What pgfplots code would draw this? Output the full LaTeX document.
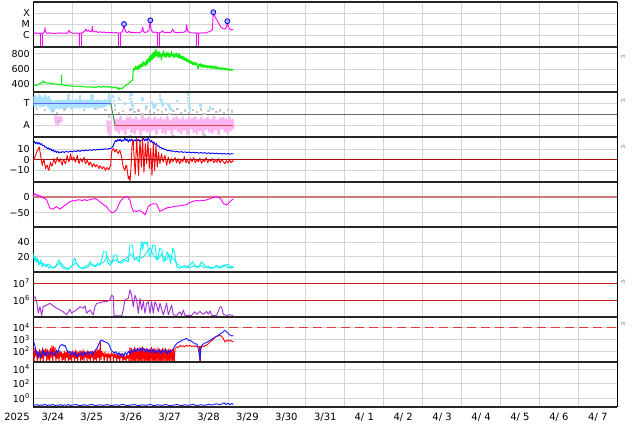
\documentclass[border=0pt]{standalone}
\usepackage{fontspec}
\setmainfont{DejaVu Sans}
\usepackage{pgfplots}
\pgfplotsset{compat=1.18}

\definecolor{xmag}{HTML}{FF00FF}
\definecolor{vgreen}{HTML}{11EE11}
\definecolor{lblue}{HTML}{A8E2FF}
\definecolor{lpink}{HTML}{FFB4F2}
\definecolor{lgray}{HTML}{C4C4C4}
\definecolor{secblue}{HTML}{5A6CFF}
\definecolor{secgreen}{HTML}{3A8A3A}
\definecolor{secred}{HTML}{DD4848}
\definecolor{dstline}{HTML}{D07878}
\definecolor{cyanA}{HTML}{00F4F4}
\definecolor{cyanB}{HTML}{22E6E6}
\definecolor{purp}{HTML}{A030D0}
\definecolor{refred}{HTML}{CC1A1A}
\definecolor{zerored}{HTML}{A81010}
\definecolor{dashred}{HTML}{E03A3A}
\definecolor{fblue}{HTML}{1A1AFF}

\pgfplotsset{
  panel/.style={
    scale only axis, width=584pt, height=45pt,
    xmin=0, xmax=15, xtick={0,...,15}, xticklabels={},
    grid=major, grid style={draw=black!17, line width=0.7pt},
    major tick length=0pt, yminorticks=false,
    separate axis lines,
    x axis line style={line width=2.6pt, draw=black!85},
    y axis line style={line width=0.9pt, draw=black},
    yticklabel style={font=\fontsize{9.5}{10}\selectfont},
    every axis plot/.append style={line width=0.9pt, line join=round},
    unbounded coords=jump,
    anchor=north west,
  },
}

\begin{document}
\begin{tikzpicture}[x=1pt,y=1pt]
\useasboundingbox (0,0) rectangle (634,424);

% 1: X-ray class
\begin{axis}[panel, at={(33.3pt,422pt)}, ymode=log, ymin=8.6e-8, ymax=1.06e-3,
  ytick={1e-6,1e-5,1e-4}, yticklabels={C,M,X}]
\addplot[xmag] coordinates {(0.00,1.6e-6)(0.03,1.5e-6)(0.06,1.7e-6)(0.09,1.5e-6)(0.12,1.6e-6)(0.15,1.5e-6)(0.185,1.5e-6)(0.24,1.5e-6)(0.27,1.7e-6)(0.29,2.5e-6)(0.30,5e-6)(0.31,2.2e-6)(0.34,1.6e-6)(0.38,1.5e-6)(0.42,1.7e-6)(0.46,1.5e-6)(0.50,1.6e-6)(0.55,1.4e-6)(0.60,1.6e-6)(0.65,1.5e-6)(0.70,1.7e-6)(0.75,1.5e-6)(0.80,1.6e-6)(0.85,1.5e-6)(0.89,1.8e-6)(0.92,2.8e-6)(0.95,1.8e-6)(1.00,1.6e-6)(1.05,1.5e-6)(1.10,1.6e-6)(1.15,1.5e-6)(1.185,1.5e-6)(1.24,1.6e-6)(1.28,1.9e-6)(1.32,2.4e-6)(1.35,3.7e-6)(1.38,2.3e-6)(1.42,2.8e-6)(1.46,2.0e-6)(1.50,2.4e-6)(1.515,6.5e-6)(1.53,2.3e-6)(1.57,2.0e-6)(1.62,2.2e-6)(1.67,1.8e-6)(1.72,2.1e-6)(1.77,1.8e-6)(1.82,2.0e-6)(1.87,1.7e-6)(1.92,1.9e-6)(1.97,1.7e-6)(2.02,1.8e-6)(2.07,1.6e-6)(2.12,1.8e-6)(2.185,1.6e-6)(2.24,1.6e-6)(2.28,2.0e-6)(2.31,3.5e-6)(2.33,1.05e-5)(2.35,3.5e-6)(2.38,2.0e-6)(2.42,1.8e-6)(2.46,2.3e-6)(2.50,1.7e-6)(2.55,1.9e-6)(2.60,1.7e-6)(2.65,1.9e-6)(2.70,1.6e-6)(2.75,1.8e-6)(2.79,2.5e-6)(2.81,5.5e-6)(2.83,2.2e-6)(2.87,1.8e-6)(2.92,2.0e-6)(2.97,2.8e-6)(3.005,2.3e-5)(3.025,3.5e-6)(3.06,2.0e-6)(3.10,1.8e-6)(3.14,2.0e-6)(3.185,1.7e-6)(3.24,1.7e-6)(3.28,1.9e-6)(3.32,2.6e-6)(3.35,1.9e-6)(3.40,1.7e-6)(3.45,1.9e-6)(3.50,1.7e-6)(3.54,2.0e-6)(3.58,3.6e-6)(3.61,2.0e-6)(3.66,1.8e-6)(3.71,1.7e-6)(3.76,1.9e-6)(3.82,1.8e-6)(3.88,2.0e-6)(3.92,2.6e-6)(3.94,9e-6)(3.96,2.6e-6)(4.00,1.9e-6)(4.05,1.7e-6)(4.10,1.6e-6)(4.15,1.7e-6)(4.195,1.6e-6)(4.25,1.5e-6)(4.30,1.6e-6)(4.36,1.7e-6)(4.42,1.6e-6)(4.47,1.9e-6)(4.52,2.1e-6)(4.57,2.6e-6)(4.60,3.2e-6)(4.615,4e-5)(4.624,1.25e-4)(4.64,8e-5)(4.67,4.5e-5)(4.70,2.9e-5)(4.74,1.8e-5)(4.78,9e-6)(4.82,5.5e-6)(4.87,4.2e-6)(4.92,3.6e-6)(4.96,5e-6)(4.983,1.9e-5)(5.00,8e-6)(5.03,4.5e-6)(5.07,3.3e-6)(5.11,3.0e-6)(5.137,3.3e-6)};
% data gaps drawn as drops to the floor
\addplot[xmag] coordinates {(0.19,1.5e-6)(0.19,8.7e-8)(0.20,nan)(0.235,8.7e-8)(0.235,1.5e-6)(0.24,nan)
 (1.19,1.5e-6)(1.19,8.7e-8)(1.20,nan)(1.235,8.7e-8)(1.235,1.6e-6)(1.24,nan)
 (2.19,1.6e-6)(2.19,8.7e-8)(2.20,nan)(2.235,8.7e-8)(2.235,1.6e-6)(2.24,nan)
 (3.19,1.7e-6)(3.19,8.7e-8)(3.20,nan)(3.235,8.7e-8)(3.235,1.7e-6)(3.24,nan)
 (4.20,1.6e-6)(4.20,8.7e-8)(4.21,nan)(4.245,8.7e-8)(4.245,1.5e-6)};
\addplot[only marks, mark=*, mark size=2.5pt, mark options={draw=blue!85!black, fill=blue!30, line width=0.8pt}]
  coordinates {(2.33,1.05e-5)(3.005,2.3e-5)(4.624,1.25e-4)(4.983,1.9e-5)};
\end{axis}

% 2: solar wind speed
\begin{axis}[panel, at={(33.3pt,377pt)}, ymin=300, ymax=888, ytick={400,600,800}, yticklabels={400,600,800}]
\addplot[vgreen, line width=1.1pt] coordinates {(0,388)(0.04,392)(0.08,386)(0.12,398)(0.16,405)(0.2,418)(0.24,430)(0.26,445)(0.28,428)(0.32,422)(0.36,415)(0.40,418)(0.44,410)(0.48,412)(0.52,404)(0.56,406)(0.60,400)(0.64,402)(0.68,396)(0.72,398)(0.725,520)(0.73,398)(0.76,392)(0.80,388)(0.85,382)(0.90,385)(0.95,378)(1.0,380)(1.05,375)(1.1,377)(1.15,372)(1.2,374)(1.25,370)(1.3,372)(1.35,366)(1.4,364)(1.45,368)(1.5,362)(1.55,366)(1.6,360)(1.65,368)(1.7,372)(1.75,362)(1.8,375)(1.85,365)(1.9,372)(1.95,360)(2.0,370)(2.05,352)(2.1,368)(2.15,345)(2.18,360)(2.2,335)(2.24,352)(2.28,342)(2.32,365)(2.36,380)(2.40,395)(2.44,410)(2.48,425)(2.52,445)(2.55,455)(2.57,595)(2.59,615)(2.61,585)(2.63,640)(2.65,600)(2.67,630)(2.69,590)(2.71,650)(2.73,610)(2.75,660)(2.77,620)(2.79,680)(2.81,635)(2.83,700)(2.85,650)(2.87,690)(2.89,640)(2.91,720)(2.93,665)(2.95,740)(2.97,690)(2.99,770)(3.01,700)(3.03,790)(3.05,720)(3.07,810)(3.09,740)(3.11,830)(3.13,760)(3.15,860)(3.17,770)(3.19,820)(3.21,750)(3.23,830)(3.25,760)(3.27,800)(3.29,720)(3.31,810)(3.33,770)(3.35,840)(3.37,760)(3.39,800)(3.41,750)(3.43,820)(3.45,770)(3.47,810)(3.49,745)(3.51,800)(3.53,765)(3.55,830)(3.57,770)(3.59,800)(3.61,750)(3.63,795)(3.65,760)(3.67,810)(3.69,755)(3.71,790)(3.73,745)(3.75,800)(3.77,740)(3.79,775)(3.81,735)(3.83,765)(3.85,720)(3.87,760)(3.89,715)(3.91,745)(3.93,700)(3.95,735)(3.97,695)(3.99,720)(4.01,680)(4.03,710)(4.05,670)(4.07,700)(4.09,660)(4.11,690)(4.13,650)(4.15,685)(4.17,655)(4.19,680)(4.21,645)(4.23,600)(4.25,665)(4.27,640)(4.29,670)(4.31,630)(4.33,660)(4.35,625)(4.37,655)(4.39,620)(4.41,650)(4.43,625)(4.45,645)(4.47,615)(4.49,640)(4.51,620)(4.53,645)(4.55,610)(4.57,635)(4.59,615)(4.61,640)(4.63,605)(4.65,630)(4.67,610)(4.69,640)(4.71,600)(4.73,625)(4.75,605)(4.77,620)(4.79,595)(4.81,615)(4.83,600)(4.85,618)(4.87,592)(4.89,610)(4.91,595)(4.93,612)(4.95,590)(4.97,605)(4.99,585)(5.01,600)(5.03,588)(5.05,602)(5.07,582)(5.09,598)(5.11,585)(5.137,592)};
\end{axis}

% 3: sector polarity
\begin{axis}[panel, at={(33.3pt,332pt)}, ymin=-2.06, ymax=2.03, ytick={-1,1}, yticklabels={A,T}]
\addplot[black!60, line width=0.9pt] coordinates {(0,0)(15,0)};
\addplot[lblue, line width=2.4pt] coordinates {(0.000,1.6)(0.025,0.8)(0.05,1.7)(0.075,0.7)(0.10,1.5)(0.125,0.9)(0.15,1.75)(0.175,0.7)(0.20,1.6)(0.225,0.8)(0.25,1.4)(0.275,0.75)(0.30,1.7)(0.325,0.9)(0.35,1.5)(0.375,0.7)(0.40,1.6)(0.425,0.5)(0.45,1.3)(0.475,0.2)(0.50,1.1)(0.525,0.3)(0.55,1.2)(0.575,0.6)(0.60,1.25)(0.625,0.6)(0.65,1.2)(0.675,0.55)(0.70,1.3)(0.725,0.6)(0.75,1.2)(0.775,0.65)(0.80,1.25)(0.825,0.6)(0.85,1.15)(0.875,0.6)(0.90,1.5)(0.925,0.7)(0.95,1.2)(0.975,0.6)(1.00,1.25)(1.025,0.65)(1.05,1.2)(1.075,0.6)(1.10,1.3)(1.125,0.7)(1.15,1.2)(1.175,0.6)(1.20,1.45)(1.225,0.65)(1.25,1.2)(1.275,0.7)(1.30,1.25)(1.325,0.6)(1.35,1.2)(1.375,0.7)(1.40,1.3)(1.425,0.65)(1.45,1.2)(1.475,0.7)(1.50,1.6)(1.525,0.7)(1.55,1.25)(1.575,0.65)(1.60,1.2)(1.625,0.7)(1.65,1.3)(1.675,0.6)(1.70,1.2)(1.725,0.7)(1.75,1.25)(1.775,0.65)(1.80,1.2)(1.825,0.7)(1.85,1.3)(1.875,0.8)(1.90,1.2)(1.925,0.9)(1.95,1.8)(1.97,0.8)};
\addplot[lpink, line width=2pt] coordinates {(0.56,-0.1)(0.58,-0.9)(0.60,-0.2)(0.62,-1.0)(0.64,-0.3)(0.66,-0.8)(0.68,-0.2)(0.70,-0.7)(0.72,-0.3)(0.74,-0.6)};
\addplot[lpink, line width=2pt] coordinates {(1.90,-0.5)(1.92,-1.6)(1.94,-0.7)(1.96,-1.9)(1.98,-0.6)};
\addplot[lpink, line width=2.4pt] coordinates {(2.08,-0.3)(2.12,-1.5)(2.16,-0.5)(2.20,-1.7)(2.24,-0.2)(2.28,-1.4)(2.32,-0.6)(2.36,-1.8)(2.40,-0.35)(2.44,-1.3)(2.48,-0.25)(2.52,-1.6)(2.56,-0.45)(2.60,-1.75)(2.64,-0.3)(2.68,-1.35)(2.72,-0.55)(2.76,-1.85)(2.80,-0.2)(2.84,-1.45)(2.88,-0.4)(2.92,-1.6)(2.96,-0.3)(3.00,-1.7)(3.04,-0.5)(3.08,-1.4)(3.12,-0.25)(3.16,-1.8)(3.20,-0.45)(3.24,-1.3)(3.28,-0.3)(3.32,-1.65)(3.36,-0.5)(3.40,-1.75)(3.44,-0.2)(3.48,-1.4)(3.52,-0.6)(3.56,-1.85)(3.60,-0.35)(3.64,-1.35)(3.68,-0.25)(3.72,-1.55)(3.76,-0.45)(3.80,-1.7)(3.84,-0.3)(3.88,-1.4)(3.92,-0.5)(3.96,-1.8)(4.00,-0.3)(4.04,-1.3)(4.08,-0.4)(4.12,-1.6)(4.16,-0.25)(4.20,-1.75)(4.24,-0.5)(4.28,-1.45)(4.32,-0.3)(4.36,-1.85)(4.40,-0.45)(4.44,-1.35)(4.48,-0.3)(4.52,-1.6)(4.56,-0.5)(4.60,-1.7)(4.64,-0.2)(4.68,-1.4)(4.72,-0.55)(4.76,-1.8)(4.80,-0.35)(4.84,-1.3)(4.88,-0.3)(4.92,-1.55)(4.96,-0.45)(5.00,-1.75)(5.04,-0.3)(5.08,-1.45)(5.12,-0.5)(5.14,-1.3)};
\addplot[only marks, mark=square*, mark size=0.7pt, color=lgray] coordinates {(0.1,0.5)(0.3,0.4)(0.5,0.3)(0.6,0.1)(0.8,0.45)(1.0,0.5)(1.3,0.4)(1.6,0.5)(1.85,0.4)(1.95,-0.2)(0.65,-0.6)(2.1,0.4)(2.2,0.1)(2.3,0.3)(2.4,-0.05)(2.5,0.45)(2.6,0.2)(2.7,0.35)(2.8,0.0)(2.9,0.5)(3.0,0.25)(3.1,0.1)(3.2,0.4)(3.3,0.2)(3.4,0.45)(3.5,0.05)(3.6,0.3)(3.7,0.5)(3.8,0.15)(3.9,0.35)(4.0,0.1)(4.1,0.4)(4.2,0.2)(4.3,0.45)(4.4,0.05)(4.5,0.3)(4.6,0.5)(4.7,0.2)(4.8,0.35)(4.9,0.1)(5.0,0.4)(5.1,0.25)(2.5,-1.95)(3.0,-1.9)(3.6,-1.95)(4.4,-1.9)};
\addplot[only marks, mark=square*, mark size=0.8pt, color=lblue] coordinates {(2.05,1.6)(2.07,1.2)(2.10,0.8)(2.2,1.5)(2.22,1.3)(2.35,1.0)(2.48,1.7)(2.50,1.4)(2.52,1.1)(2.54,0.8)(2.55,0.5)(2.52,1.8)(2.79,1.5)(2.81,1.35)(3.05,1.1)(3.07,0.9)(3.09,0.7)(3.11,0.6)(3.13,0.9)(3.25,1.7)(3.27,1.4)(3.29,1.2)(3.31,1.0)(3.33,0.8)(3.47,0.9)(3.49,0.7)(3.52,0.5)(3.55,0.4)(3.97,1.8)(3.98,1.5)(3.99,1.2)(4.0,0.9)(4.01,0.6)(4.02,0.4)(4.54,0.6)(4.55,0.5)(3.7,1.2)(2.9,0.7)(4.3,0.8)(1.5,1.75)(1.52,1.6)(0.9,1.7)(1.2,1.65)};
\addplot[secblue] coordinates {(0,1)(1.99,1)};
\addplot[secgreen] coordinates {(1.99,1)(2.10,-1)};
\addplot[secred] coordinates {(2.10,-1)(5.14,-1)};
\end{axis}

% 4: IMF Bt, Bz
\begin{axis}[panel, at={(33.3pt,287pt)}, ymin=-21.6, ymax=21.9, ytick={-10,0,10}, yticklabels={−10,0,10}]
\addplot[blue] coordinates {(0,16)(0.03,17.5)(0.06,15.5)(0.09,17)(0.12,15)(0.15,16.5)(0.18,14.5)(0.21,15.5)(0.24,13.5)(0.27,14)(0.30,12)(0.33,12.5)(0.36,10.5)(0.39,11.5)(0.42,9.5)(0.45,10.5)(0.48,8.5)(0.51,9.5)(0.54,7.5)(0.57,8.5)(0.60,7)(0.63,8)(0.66,6.5)(0.69,7.5)(0.72,6.8)(0.75,7.8)(0.8,7)(0.85,8)(0.9,7.2)(0.95,8.2)(1.0,7.5)(1.05,8.5)(1.1,7.8)(1.15,8.8)(1.2,8)(1.25,9)(1.3,8.5)(1.35,9.3)(1.4,8.7)(1.45,9.5)(1.5,9)(1.55,9.8)(1.6,9.2)(1.65,10)(1.7,9.5)(1.75,10.3)(1.8,9.8)(1.85,10.5)(1.9,10)(1.95,10.8)(2.0,11)(2.05,13)(2.08,16)(2.11,18.5)(2.14,17.5)(2.17,19.5)(2.2,18)(2.23,20)(2.26,17.5)(2.29,19)(2.32,18)(2.35,21)(2.38,18.5)(2.41,20)(2.44,17)(2.47,19.5)(2.5,18)(2.53,20)(2.56,17.5)(2.59,19)(2.62,18)(2.65,20.5)(2.68,18)(2.71,19.5)(2.74,17.5)(2.77,19)(2.8,18.5)(2.83,21)(2.86,18)(2.89,20)(2.92,18.5)(2.95,21.5)(2.98,19)(3.01,17)(3.04,18.5)(3.07,16)(3.1,17)(3.13,14.5)(3.16,15.5)(3.19,13)(3.22,13.5)(3.25,11.5)(3.28,12)(3.31,10.5)(3.34,11)(3.37,9.5)(3.4,10)(3.45,8.5)(3.5,9)(3.55,8)(3.6,8.5)(3.65,7.5)(3.7,8)(3.75,7.2)(3.8,7.8)(3.85,7)(3.9,7.5)(3.95,6.8)(4.0,7.4)(4.05,6.6)(4.1,7.2)(4.15,6.5)(4.2,7)(4.25,6.3)(4.3,6.9)(4.35,6.2)(4.4,6.8)(4.45,6)(4.5,6.6)(4.55,5.9)(4.6,6.5)(4.65,5.8)(4.7,6.3)(4.75,5.6)(4.8,6.1)(4.85,5.5)(4.9,6)(4.95,5.4)(5.0,5.9)(5.05,5.3)(5.1,5.8)(5.14,5.5)};
\addplot[red] coordinates {(0,-2.3)(0.02,1)(0.043,2.5)(0.065,5)(0.086,7.4)(0.11,9)(0.128,10.7)(0.154,12.2)(0.17,8)(0.188,4.2)(0.21,-1)(0.231,-5.5)(0.25,-2)(0.274,0)(0.295,-4)(0.317,-8.7)(0.34,-6)(0.36,-5.5)(0.38,-9)(0.402,-10.4)(0.42,-6)(0.445,-2.3)(0.465,-6)(0.488,-5.5)(0.51,-2)(0.531,1)(0.55,-2)(0.574,-3.9)(0.595,0)(0.616,2.5)(0.64,-1)(0.659,-2.3)(0.68,0)(0.702,1)(0.72,-3)(0.745,-5.5)(0.765,-1)(0.788,-0.5)(0.81,-3)(0.83,-3.9)(0.85,0)(0.873,4.2)(0.895,0)(0.916,-2.3)(0.94,2)(0.959,5.8)(0.98,1)(1.002,-0.5)(1.025,2)(1.045,2.5)(1.065,-1)(1.087,-2.3)(1.11,1)(1.13,4.2)(1.15,0)(1.173,-3.9)(1.195,-1)(1.216,1)(1.24,-1)(1.259,-2.3)(1.28,0)(1.301,2.5)(1.32,-1)(1.344,-3.9)(1.365,-2)(1.387,-0.5)(1.41,-3)(1.43,-5.5)(1.45,-3)(1.473,-2.3)(1.495,-5)(1.515,-7.1)(1.535,-5)(1.558,-3.9)(1.58,-6)(1.601,-7.1)(1.62,-5)(1.644,-5.5)(1.665,-7)(1.687,-8.7)(1.71,-6)(1.729,-6.3)(1.75,-8)(1.772,-8.7)(1.795,-7)(1.815,-7.1)(1.835,-9)(1.858,-10.4)(1.88,-8)(1.901,-7.8)(1.92,-9)(1.943,-9.7)(1.965,-7)(1.986,-5.5)(2.0,2)(2.021,9)(2.055,10.7)(2.075,9)(2.098,7.4)(2.12,9.5)(2.14,9.9)(2.16,7)(2.183,6)(2.205,8)(2.226,8.8)(2.25,5)(2.269,2.5)(2.29,-3)(2.312,-7.1)(2.33,-9)(2.354,-10.4)(2.375,-6)(2.397,-5.5)(2.42,-12)(2.44,-18.4)(2.46,-16)(2.483,-20.8)(2.509,-8.7)(2.534,12.2)(2.55,16)(2.568,18.7)(2.58,8)(2.594,1)(2.607,-8)(2.62,-14)(2.637,3)(2.654,20.4)(2.667,10)(2.68,5)(2.69,-6)(2.705,-15.2)(2.72,2)(2.74,18.7)(2.757,8)(2.774,-7.1)(2.79,5)(2.808,20.4)(2.825,3)(2.842,-12.3)(2.86,0)(2.877,15.5)(2.895,6)(2.911,-3.9)(2.93,8)(2.945,18.7)(2.962,5)(2.979,-8.7)(2.996,2)(3.014,10.7)(3.03,0)(3.048,-15.2)(3.065,0)(3.082,15.5)(3.1,2)(3.116,-10.4)(3.134,3)(3.151,13.9)(3.168,2)(3.185,-7.1)(3.2,0)(3.219,7.4)(3.236,0)(3.253,-3.9)(3.275,2)(3.296,5.8)(3.318,0)(3.339,-2.3)(3.36,2)(3.382,4.2)(3.404,-1)(3.425,-5.5)(3.446,-1)(3.467,2.5)(3.49,-1)(3.51,-3.9)(3.53,0)(3.553,1)(3.575,-2)(3.60,-1)(3.64,2)(3.68,-3)(3.72,1)(3.76,-4)(3.80,0)(3.84,-2)(3.88,3)(3.92,-3)(3.96,0)(4.00,-4)(4.04,1)(4.08,-2)(4.12,2)(4.16,-3)(4.20,0)(4.24,-2)(4.28,1.5)(4.32,-3.5)(4.36,-0.5)(4.40,-2)(4.44,2)(4.48,-3)(4.52,0)(4.56,-1.5)(4.60,1)(4.64,-3)(4.68,-0.5)(4.72,-2.5)(4.76,1)(4.80,-3)(4.84,0)(4.88,-2)(4.92,-4)(4.96,-1)(5.00,-3)(5.04,0)(5.08,-3)(5.12,-1)(5.14,-2)};
\addplot[zerored, line width=0.9pt] coordinates {(0,0)(15,0)};
\end{axis}

% 5: Dst
\begin{axis}[panel, at={(33.3pt,242pt)}, ymin=-94.7, ymax=45.9, ytick={-50,0}, yticklabels={−50,0}]
\addplot[dstline, line width=2pt] coordinates {(0,0)(15,0)};
\addplot[xmag] coordinates {(0,5)(0.02,10)(0.04,6)(0.06,9)(0.09,3)(0.12,6)(0.15,1)(0.18,3)(0.21,-2)(0.25,-4)(0.30,-6)(0.34,-9)(0.38,-22)(0.43,-36)(0.47,-38)(0.51,-39)(0.55,-35)(0.60,-31)(0.64,-35)(0.68,-39)(0.72,-35)(0.77,-31)(0.81,-27)(0.86,-23)(0.90,-19)(0.94,-16)(0.98,-14)(1.03,-12)(1.08,-13)(1.13,-10)(1.20,-10)(1.26,-12)(1.32,-9)(1.37,-12)(1.43,-10)(1.49,-8)(1.54,-7)(1.60,-6)(1.65,-10)(1.71,-16)(1.77,-22)(1.83,-27)(1.88,-31)(1.93,-40)(1.98,-46)(2.02,-50)(2.05,-50)(2.09,-46)(2.14,-41)(2.18,-28)(2.23,-16)(2.28,-8)(2.33,-3)(2.37,0)(2.40,0)(2.44,-4)(2.48,-10)(2.52,-30)(2.57,-46)(2.61,-44)(2.65,-46)(2.70,-44)(2.74,-43)(2.78,-47)(2.82,-50)(2.87,-57)(2.91,-45)(2.95,-31)(2.99,-27)(3.04,-23)(3.10,-22)(3.17,-23)(3.21,-35)(3.25,-46)(3.30,-43)(3.34,-41)(3.38,-38)(3.42,-36)(3.47,-33)(3.52,-34)(3.56,-32)(3.60,-31)(3.66,-29)(3.72,-30)(3.77,-28)(3.83,-27)(3.88,-26)(3.94,-25)(3.98,-21)(4.02,-18)(4.07,-16)(4.12,-14)(4.16,-13)(4.20,-12)(4.26,-13)(4.32,-11)(4.38,-12)(4.45,-10)(4.5,-8)(4.56,-5)(4.62,-2)(4.67,-1)(4.71,0)(4.75,-2)(4.80,-5)(4.84,-12)(4.88,-21)(4.93,-24)(4.97,-26)(5.01,-21)(5.05,-16)(5.09,-11)(5.14,-7)};
\end{axis}

% 6: density
\begin{axis}[panel, at={(33.3pt,197pt)}, ymin=-0.8, ymax=60.4, ytick={20,40}, yticklabels={20,40}]
\addplot[cyanB] coordinates {(0,20)(0.05,14)(0.1,18)(0.15,10)(0.2,12)(0.3,8)(0.4,10)(0.5,5)(0.6,8)(0.7,12)(0.8,6)(0.9,3)(1.0,8)(1.1,12)(1.2,5)(1.3,4)(1.4,6)(1.5,10)(1.6,7)(1.7,10)(1.8,12)(1.9,20)(2.0,11)(2.1,16)(2.2,12)(2.3,16)(2.4,18)(2.5,24)(2.6,17)(2.7,20)(2.8,18)(2.9,25)(3.0,32)(3.1,20)(3.2,16)(3.3,24)(3.4,15)(3.5,22)(3.6,17)(3.7,10)(3.8,6)(3.9,8)(4.0,5)(4.1,7)(4.2,6)(4.3,8)(4.4,5)(4.5,7)(4.6,4)(4.7,8)(4.8,6)(4.9,9)(5.0,5)(5.1,7)(5.14,5)};
\addplot[cyanA] coordinates {(0,24.6)(0.026,15)(0.05,20)(0.086,12)(0.11,17.8)(0.146,8.7)(0.19,15.5)(0.23,6.4)(0.27,11)(0.32,6.4)(0.36,8.7)(0.40,4.2)(0.445,6.4)(0.51,4.2)(0.58,6.4)(0.625,13)(0.67,15.5)(0.71,8)(0.77,4.2)(0.84,3)(0.9,4.2)(0.985,6.4)(1.03,15.5)(1.07,17.8)(1.11,11)(1.16,6.4)(1.24,4.2)(1.33,6.4)(1.41,8.7)(1.46,13)(1.52,8.7)(1.58,6.4)(1.65,11)(1.71,8.7)(1.755,15.5)(1.80,26.8)(1.87,26.8)(1.90,13)(1.97,8.7)(2.04,15.5)(2.07,22.3)(2.14,22.3)(2.18,13)(2.24,11)(2.31,13.2)(2.38,15.5)(2.44,13)(2.48,35.9)(2.55,35.9)(2.59,15.5)(2.65,17.8)(2.72,13)(2.78,40.4)(2.81,30)(2.84,40.4)(2.89,37)(2.93,40)(2.98,22)(3.01,20)(3.07,35.9)(3.13,35)(3.17,15.5)(3.21,22)(3.25,31.4)(3.30,30)(3.34,13)(3.39,18)(3.44,26.8)(3.49,20)(3.53,11)(3.58,31.4)(3.63,26)(3.68,6.4)(3.77,4.2)(3.85,6.4)(3.94,5)(4.02,8.7)(4.09,13.2)(4.15,8)(4.24,5)(4.32,13.2)(4.38,8.7)(4.45,6.4)(4.54,4.2)(4.62,5)(4.71,6.4)(4.79,4.2)(4.88,6.4)(4.97,9.5)(5.02,8.7)(5.07,4.2)(5.14,6.4)};
\end{axis}

% 7: electron fluence
\begin{axis}[panel, at={(33.3pt,152pt)}, ymode=log, ymin=1.04e5, ymax=4.6e7, ytick={1e6,1e7},
  yticklabels={10\textsuperscript{6},10\textsuperscript{7}}]
\addplot[refred] coordinates {(0,1e7)(15,1e7)};
\addplot[refred] coordinates {(0,1e6)(15,1e6)};
\addplot[purp] coordinates {(0,1.32e6)(0.043,1.62e6)(0.086,8.3e5)(0.128,1.74e5)(0.171,4.2e5)(0.214,1.26e5)(0.257,4.2e5)(0.342,5.2e5)(0.428,6.6e5)(0.514,4.7e5)(0.6,3.4e5)(0.685,2.7e5)(0.771,2.1e5)(0.856,1.4e5)(0.942,2.9e5)(0.985,1.74e5)(1.027,2.1e5)(1.113,2.7e5)(1.199,4.2e5)(1.284,3.4e5)(1.327,4.7e5)(1.37,1.74e5)(1.455,2.7e5)(1.498,1.9e5)(1.541,1.4e5)(1.584,4.2e5)(1.627,6.6e5)(1.712,7.1e5)(1.798,8.3e5)(1.884,8.3e5)(1.969,1.07e6)(2.012,2.0e6)(2.055,1.62e6)(2.072,1.4e5)(2.098,1.2e5)(2.27,1.2e5)(2.312,2.7e5)(2.354,1.07e6)(2.44,1.3e6)(2.483,4.1e6)(2.526,2.0e6)(2.568,4.2e5)(2.611,2.0e6)(2.654,1.07e6)(2.697,1.74e5)(2.74,1.3e6)(2.783,2.7e5)(2.825,8.3e5)(2.868,1.74e5)(2.911,6.6e5)(2.954,8.3e5)(2.997,1.74e5)(3.039,8.3e5)(3.082,1.74e5)(3.125,8.3e5)(3.168,5.2e5)(3.211,2.1e5)(3.253,6.6e5)(3.339,1.4e5)(3.425,6.6e5)(3.467,1.4e5)(3.553,5.2e5)(3.596,1.4e5)(3.682,1.3e5)(3.767,2.1e5)(3.81,1.3e5)(3.853,2.7e5)(3.896,1.3e5)(4.067,1.3e5)(4.152,2.1e5)(4.195,1.5e5)(4.281,2.2e5)(4.366,1.5e5)(4.452,2.2e5)(4.495,1.5e5)(4.538,2.4e5)(4.58,1.3e5)(4.709,1.3e5)(4.795,4.0e5)(4.837,4.2e5)(4.88,1.5e5)(4.966,1.3e5)(5.051,1.4e5)(5.137,1.3e5)};
\end{axis}

% 8: proton / electron flux
\begin{axis}[panel, at={(33.3pt,107pt)}, ymode=log, ymin=12.4, ymax=8.1e4, ytick={1e2,1e3,1e4},
  yticklabels={10\textsuperscript{2},10\textsuperscript{3},10\textsuperscript{4}}]
\addplot[draw=dashred, line width=1.3pt, dash pattern=on 9pt off 5pt] coordinates {(0,1e4)(15,1e4)};
\addplot[red] coordinates {(0,250)(0.02,13)(0.04,180)(0.06,40)(0.08,120)(0.10,13)(0.12,90)(0.14,30)(0.16,150)(0.18,13)(0.20,110)(0.22,25)(0.24,200)(0.26,13)(0.28,130)(0.30,40)(0.32,170)(0.34,13)(0.36,140)(0.38,20)(0.40,120)(0.42,13)(0.44,180)(0.46,30)(0.48,300)(0.50,13)(0.52,250)(0.54,40)(0.56,200)(0.58,13)(0.60,100)(0.62,25)(0.64,80)(0.66,13)(0.68,110)(0.70,35)(0.72,90)(0.74,13)(0.76,70)(0.78,20)(0.80,100)(0.82,13)(0.84,85)(0.86,30)(0.88,120)(0.90,13)(0.92,90)(0.94,20)(0.96,75)(0.98,13)(1.00,110)(1.02,30)(1.04,90)(1.06,13)(1.08,130)(1.10,25)(1.12,100)(1.14,13)(1.16,80)(1.18,35)(1.20,120)(1.22,13)(1.24,95)(1.26,20)(1.28,140)(1.30,13)(1.32,100)(1.34,30)(1.36,85)(1.38,13)(1.40,120)(1.42,25)(1.44,90)(1.46,13)(1.48,75)(1.50,30)(1.52,110)(1.54,13)(1.56,95)(1.58,20)(1.60,130)(1.62,13)(1.64,160)(1.66,30)(1.68,120)(1.70,13)(1.72,800)(1.74,20)(1.76,100)(1.78,40)(1.80,70)(1.82,13)(1.84,90)(1.86,35)(1.88,60)(1.90,13)(1.92,75)(1.94,30)(1.96,55)(1.98,13)(2.00,80)(2.02,40)(2.04,60)(2.06,15)(2.08,70)(2.10,30)(2.12,55)(2.14,13)(2.16,65)(2.18,25)(2.20,50)(2.22,13)(2.24,60)(2.26,30)(2.28,45)(2.30,13)(2.32,55)(2.34,20)(2.36,40)(2.38,13)(2.40,50)(2.42,25)(2.44,45)(2.46,13)(2.48,200)(2.50,13)(2.52,180)(2.54,13)(2.56,150)(2.58,13)(2.60,220)(2.62,13)(2.64,170)(2.66,13)(2.68,140)(2.70,13)(2.72,200)(2.74,13)(2.76,160)(2.78,13)(2.80,250)(2.82,13)(2.84,180)(2.86,13)(2.88,150)(2.90,13)(2.92,190)(2.94,13)(2.96,140)(2.98,13)(3.00,170)(3.02,13)(3.04,220)(3.06,13)(3.08,150)(3.10,13)(3.12,180)(3.14,13)(3.16,130)(3.18,13)(3.20,200)(3.22,13)(3.24,160)(3.26,13)(3.28,140)(3.30,13)(3.32,190)(3.34,13)(3.36,150)(3.38,13)(3.40,170)(3.42,13)(3.44,130)(3.46,13)(3.48,160)(3.50,13)(3.52,140)(3.54,13)(3.56,120)(3.58,13)(3.60,150)(3.62,13)(3.64,166)(3.68,250)(3.72,200)(3.77,324)(3.8,260)(3.84,300)(3.88,240)(3.94,324)(3.98,270)(4.03,316)(4.07,250)(4.12,300)(4.16,240)(4.2,282)(4.24,230)(4.27,251)(4.28,13)(4.29,13)(4.3,251)(4.33,282)(4.37,240)(4.41,300)(4.45,324)(4.5,450)(4.54,631)(4.58,800)(4.62,1000)(4.67,1585)(4.72,1900)(4.76,2100)(4.8,2291)(4.84,1778)(4.88,1200)(4.92,617)(4.96,800)(5.0,891)(5.03,708)(5.07,850)(5.1,708)(5.14,631)};
\addplot[fblue] coordinates {(0,646)(0.02,501)(0.04,339)(0.06,126)(0.086,68)(0.1,100)(0.128,26)(0.15,79)(0.171,93)(0.19,32)(0.214,35)(0.24,100)(0.257,129)(0.28,50)(0.3,79)(0.33,40)(0.36,93)(0.4,63)(0.43,49)(0.47,100)(0.5,68)(0.54,40)(0.58,93)(0.6,129)(0.63,63)(0.66,178)(0.69,316)(0.72,339)(0.75,398)(0.78,282)(0.81,316)(0.84,200)(0.86,129)(0.9,79)(0.94,100)(0.97,50)(1.0,93)(1.04,40)(1.08,79)(1.12,32)(1.16,68)(1.2,50)(1.24,93)(1.28,40)(1.32,79)(1.36,49)(1.4,93)(1.44,63)(1.48,100)(1.52,50)(1.56,89)(1.6,129)(1.64,200)(1.68,398)(1.71,646)(1.74,794)(1.77,912)(1.8,708)(1.84,646)(1.88,562)(1.92,479)(1.96,316)(1.98,178)(2.0,126)(2.04,93)(2.08,68)(2.12,93)(2.16,49)(2.2,79)(2.24,40)(2.28,68)(2.32,35)(2.36,79)(2.4,50)(2.44,100)(2.48,63)(2.52,129)(2.56,79)(2.6,158)(2.64,89)(2.68,178)(2.72,100)(2.76,200)(2.8,100)(2.84,178)(2.88,93)(2.92,158)(2.96,79)(3.0,141)(3.04,79)(3.08,158)(3.12,68)(3.16,129)(3.2,79)(3.24,141)(3.28,63)(3.32,126)(3.36,79)(3.4,158)(3.44,63)(3.48,112)(3.52,79)(3.56,126)(3.6,178)(3.64,316)(3.67,398)(3.7,501)(3.74,631)(3.77,617)(3.8,794)(3.84,912)(3.88,1000)(3.91,1175)(3.94,1259)(3.97,1000)(4.0,794)(4.03,912)(4.06,708)(4.1,562)(4.14,479)(4.17,398)(4.2,437)(4.23,200)(4.26,63)(4.28,18)(4.3,158)(4.33,316)(4.36,398)(4.4,501)(4.45,562)(4.5,708)(4.54,851)(4.58,1000)(4.62,1259)(4.67,1622)(4.72,1995)(4.76,2399)(4.8,3090)(4.84,3548)(4.88,4571)(4.92,6026)(4.95,5012)(4.98,3981)(5.01,3162)(5.04,2512)(5.07,2291)(5.1,1995)(5.137,2188)};
\end{axis}

% 9: neutron / other flux
\begin{axis}[panel, at={(33.3pt,62pt)}, ymode=log, ymin=0.065, ymax=9.0e4, ytick={1,1e2,1e4},
  yticklabels={10\textsuperscript{0},10\textsuperscript{2},10\textsuperscript{4}},
  xticklabels={3/24,3/25,3/26,3/27,3/28,3/29,3/30,3/31,4/ 1,4/ 2,4/ 3,4/ 4,4/ 5,4/ 6,4/ 7,{}},
  xticklabel style={font=\fontsize{10}{12}\selectfont, anchor=base, xshift=19.47pt, yshift=-13pt}]
\addplot[fblue] coordinates {(0,0.15)(0.05,0.11)(0.1,0.14)(0.15,0.1)(0.2,0.13)(0.25,0.11)(0.3,0.16)(0.35,0.1)(0.4,0.13)(0.45,0.11)(0.5,0.15)(0.55,0.1)(0.6,0.12)(0.65,0.11)(0.7,0.14)(0.75,0.1)(0.8,0.13)(0.85,0.11)(0.9,0.15)(0.95,0.1)(1.0,0.12)(1.1,0.14)(1.2,0.1)(1.3,0.13)(1.4,0.11)(1.5,0.15)(1.6,0.1)(1.7,0.13)(1.8,0.11)(1.9,0.14)(2.0,0.1)(2.1,0.13)(2.2,0.11)(2.3,0.15)(2.4,0.1)(2.5,0.12)(2.6,0.14)(2.7,0.1)(2.8,0.13)(2.9,0.11)(3.0,0.15)(3.1,0.1)(3.2,0.13)(3.3,0.11)(3.4,0.14)(3.5,0.1)(3.6,0.12)(3.7,0.14)(3.8,0.1)(3.9,0.13)(4.0,0.11)(4.1,0.15)(4.2,0.1)(4.3,0.13)(4.4,0.11)(4.5,0.15)(4.6,0.12)(4.7,0.18)(4.8,0.13)(4.9,0.25)(4.95,0.14)(5.0,0.22)(5.05,0.13)(5.1,0.2)(5.14,0.14)};
\end{axis}

% panel separators and side notes
\foreach \yy in {422,377,...,17} \draw[line width=2.6pt, black!85] (33.3,\yy) -- (617.3,\yy);
\node[anchor=base, font=\fontsize{10}{12}\selectfont] at (17,4) {2025};
\foreach \yy in {367.3,323,277.3,142.3,100.7}
  \node[anchor=west, font=\fontsize{5}{6}\selectfont, text=black!60, inner sep=0pt] at (621,\yy) {rt};
\end{tikzpicture}
\end{document}
